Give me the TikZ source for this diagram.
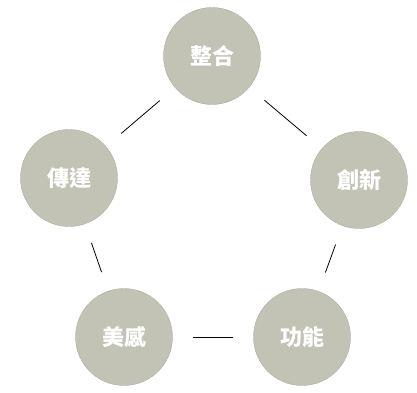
\documentclass[tikz,border=0pt]{standalone}
\usepackage{fontspec}
\newfontfamily\cjk{Noto Sans CJK TC}
\begin{document}
\begin{tikzpicture}[x=1pt,y=-1pt,
  disc/.style={circle,fill=discgray,draw=discgray!85!black,line width=0.3pt,minimum size=97pt,inner sep=0pt,
    text=white,font=\cjk\bfseries\fontsize{22}{26}\selectfont},
  conn/.style={line width=0.8pt,shorten >=20pt,shorten <=20pt}]
\definecolor{discgray}{RGB}{194,194,181}
\useasboundingbox (0,0) rectangle (417,392);
\node[disc] (zh) at (212,56) {整合};
\node[disc] (cx) at (359,180) {創新};
\node[disc] (gn) at (302,337) {功能};
\node[disc] (mg) at (124,337) {美感};
\node[disc] (cd) at (69,178) {傳達};
\draw[conn] (zh) -- (cx);
\draw[conn] (cx) -- (gn);
\draw[conn] (gn) -- (mg);
\draw[conn] (mg) -- (cd);
\draw[conn] (cd) -- (zh);
\end{tikzpicture}
\end{document}
